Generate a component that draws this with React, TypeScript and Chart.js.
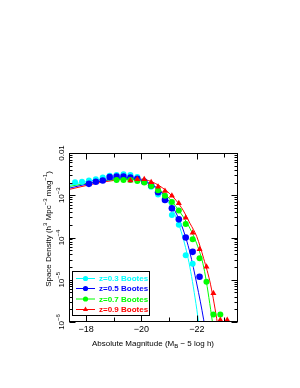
import React, { useEffect, useRef } from "react";
import { Chart, registerables } from "chart.js";
Chart.register(...registerables);

// ---- data (magnitudes and log10 space density) ----
const seriesLabels = ["z=0.3 Bootes", "z=0.5 Bootes", "z=0.7 Bootes", "z=0.9 Bootes"];
const seriesColors = ["#00FFFF", "#0000FF", "#00FF00", "#FF0000"];

const magZ03 = [-17.6, -17.85, -18.1, -18.35, -18.6, -18.85, -19.1, -19.35, -19.6, -19.85, -20.1, -20.35, -20.6, -20.85, -21.1, -21.35, -21.6, -21.85];
const logPhiZ03 = [-2.69, -2.68, -2.65, -2.62, -2.58, -2.54, -2.52, -2.5, -2.52, -2.57, -2.66, -2.8, -2.98, -3.1, -3.47, -3.7, -4.42, -4.62];

const magZ05 = [-18.1, -18.35, -18.6, -18.85, -19.1, -19.35, -19.6, -19.85, -20.1, -20.35, -20.6, -20.85, -21.1, -21.35, -21.6, -21.85, -22.1];
const logPhiZ05 = [-2.73, -2.68, -2.65, -2.57, -2.56, -2.56, -2.58, -2.61, -2.68, -2.77, -2.93, -3.11, -3.31, -3.57, -4.0, -4.34, -4.93];

const magZ07 = [-19.1, -19.35, -19.6, -19.85, -20.1, -20.35, -20.6, -20.85, -21.1, -21.35, -21.6, -21.85, -22.1, -22.35, -22.6, -22.85];
const logPhiZ07 = [-2.64, -2.64, -2.64, -2.66, -2.7, -2.78, -2.88, -3.01, -3.16, -3.36, -3.68, -4.04, -4.49, -5.05, -5.82, -5.82];

const magZ09 = [-19.6, -19.85, -20.1, -20.35, -20.6, -20.85, -21.1, -21.35, -21.6, -21.85, -22.1, -22.35, -22.6, -22.85, -23.1];
const logPhiZ09 = [-2.65, -2.62, -2.62, -2.69, -2.8, -2.9, -3.01, -3.19, -3.53, -3.89, -4.28, -4.69, -5.32, -5.95, -5.95];

// fitted curves
const fitMagZ03 = [-17.4, -17.75, -18, -18.5, -19, -19.5, -20, -20.25, -20.5, -20.75, -21, -21.25, -21.5, -21.75, -22, -22.25];
const fitLogZ03 = [-2.76, -2.71, -2.68, -2.62, -2.58, -2.58, -2.65, -2.72, -2.83, -2.99, -3.2, -3.52, -4.0, -4.7, -5.7, -6.9];

const fitMagZ05 = [-17.4, -18, -18.5, -19, -19.5, -20, -20.25, -20.5, -20.75, -21, -21.25, -21.5, -21.75, -22, -22.25, -22.5];
const fitLogZ05 = [-2.83, -2.74, -2.67, -2.61, -2.59, -2.64, -2.7, -2.8, -2.95, -3.15, -3.42, -3.8, -4.35, -5.1, -5.95, -7.0];

const fitMagZ07 = [-17.4, -18, -18.5, -19, -19.5, -20, -20.5, -20.75, -21, -21.25, -21.5, -21.75, -22, -22.25, -22.5, -22.75];
const fitLogZ07 = [-2.79, -2.72, -2.67, -2.63, -2.62, -2.66, -2.8, -2.92, -3.07, -3.27, -3.5, -3.78, -4.15, -4.7, -5.7, -6.9];

const fitMagZ09 = [-17.4, -18, -18.5, -19, -19.5, -20, -20.5, -20.75, -21, -21.25, -21.5, -21.75, -22, -22.25, -22.5, -22.75, -23];
const fitLogZ09 = [-2.86, -2.77, -2.7, -2.65, -2.62, -2.62, -2.72, -2.82, -2.95, -3.12, -3.35, -3.66, -3.98, -4.5, -5.12, -6.05, -7.2];

const xTickLabels = ["-18", "-20", "-22"];
const xTickValues = [-18, -20, -22];
const xMinorValues = [-23, -22, -21, -20, -19, -18];
const yDecades = [-6, -5, -4, -3, -2];

const pointMags = [magZ03, magZ05, magZ07, magZ09];
const pointLogs = [logPhiZ03, logPhiZ05, logPhiZ07, logPhiZ09];
const fitMags = [fitMagZ03, fitMagZ05, fitMagZ07, fitMagZ09];
const fitLogs = [fitLogZ03, fitLogZ05, fitLogZ07, fitLogZ09];
const markerStyles = ["circle", "circle", "circle", "triangle"];
const markerRadius = [3, 3.3, 3, 3.5];

type Seg = { t: string; sup?: boolean; sub?: boolean };

function drawRich(ctx: CanvasRenderingContext2D, segs: Seg[], cx: number, cy: number, rot: number, size: number, family: string, color: string, align: "center" | "left" = "center") {
  const small = Math.round(size * 0.7);
  const widths = segs.map((s) => {
    ctx.font = `${s.sup || s.sub ? small : size}px ${family}`;
    return ctx.measureText(s.t).width;
  });
  const total = widths.reduce((a, b) => a + b, 0);
  ctx.save();
  ctx.translate(cx, cy);
  ctx.rotate(rot);
  ctx.fillStyle = color;
  ctx.textBaseline = "middle";
  ctx.textAlign = "left";
  let x = align === "center" ? -total / 2 : 0;
  segs.forEach((s, i) => {
    ctx.font = `${s.sup || s.sub ? small : size}px ${family}`;
    const dy = s.sup ? -size * 0.4 : s.sub ? size * 0.3 : 0;
    ctx.fillText(s.t, x, dy);
    x += widths[i];
  });
  ctx.restore();
}

function drawMarker(ctx: CanvasRenderingContext2D, style: string, x: number, y: number, r: number, color: string) {
  ctx.save();
  ctx.fillStyle = color;
  ctx.beginPath();
  if (style === "triangle") {
    ctx.moveTo(x, y - r * 1.15);
    ctx.lineTo(x + r, y + r * 0.6);
    ctx.lineTo(x - r, y + r * 0.6);
    ctx.closePath();
  } else {
    ctx.arc(x, y, r, 0, Math.PI * 2);
  }
  ctx.fill();
  ctx.restore();
}

const FONT = "'Liberation Sans', Arial, sans-serif";

const framePlugin = {
  id: "idlFrame",
  afterDraw(chart: any) {
    const { ctx, chartArea: a, scales } = chart;
    const xs = scales.x;
    const ys = scales.y;
    ctx.save();
    ctx.strokeStyle = "#000";
    ctx.lineWidth = 1;
    const L = a.left + 0.5, R = a.right - 0.5, T = a.top + 0.5, B = a.bottom - 0.5;
    ctx.strokeRect(L, T, R - L, B - T);
    const seg = (x1: number, y1: number, x2: number, y2: number) => {
      ctx.beginPath();
      ctx.moveTo(x1, y1);
      ctx.lineTo(x2, y2);
      ctx.stroke();
    };
    // y ticks (log, inward, both sides)
    yDecades.forEach((e) => {
      for (let m = 1; m < 10; m++) {
        if (e === -2 && m > 1) break;
        const v = m * Math.pow(10, e);
        const py = Math.round(ys.getPixelForValue(v)) + 0.5;
        const len = m === 1 ? 6 : 3;
        seg(L, py, L + len, py);
        seg(R, py, R - len, py);
      }
    });
    // x ticks
    xMinorValues.forEach((v) => {
      const px = Math.round(xs.getPixelForValue(v)) + 0.5;
      const len = xTickValues.includes(v) ? 6 : 4;
      seg(px, B, px, B - len);
      seg(px, T, px, T + len);
    });
    // x tick labels
    ctx.fillStyle = "#000";
    ctx.font = `9px ${FONT}`;
    ctx.textAlign = "center";
    ctx.textBaseline = "middle";
    xTickValues.forEach((v, i) => {
      const px = xs.getPixelForValue(v);
      ctx.fillText(xTickLabels[i].replace("-", "\u2212"), px, a.bottom + 8);
    });
    // y tick labels (rotated)
    yDecades.forEach((e) => {
      const py = ys.getPixelForValue(Math.pow(10, e));
      const segs: Seg[] = e === -2 ? [{ t: "0.01" }] : [{ t: "10" }, { t: "\u2212" + String(-e), sup: true }];
      drawRich(ctx, segs, a.left - 7, py, -Math.PI / 2, 8, FONT, "#000");
    });
    // axis titles
    drawRich(
      ctx,
      [{ t: "Absolute Magnitude (M" }, { t: "B", sub: true }, { t: " \u2212 5 log h)" }],
      153,
      a.bottom + 22,
      0,
      8,
      FONT,
      "#000"
    );
    drawRich(
      ctx,
      [{ t: "Space Density (h" }, { t: "3", sup: true }, { t: " Mpc" }, { t: "\u22123", sup: true }, { t: " mag" }, { t: "\u22121", sup: true }, { t: ")" }],
      a.left - 20,
      229,
      -Math.PI / 2,
      8,
      FONT,
      "#000"
    );
    // legend
    const bx = 72.5, by = 271.5, bw = 77, bh = 44;
    ctx.fillStyle = "#fff";
    ctx.fillRect(bx, by, bw, bh);
    ctx.strokeStyle = "#000";
    ctx.strokeRect(bx, by, bw, bh);
    const rows = [278.5, 288.5, 299, 309.5];
    seriesLabels.forEach((lab, i) => {
      const yy = rows[i];
      ctx.strokeStyle = seriesColors[i];
      seg(76, yy, 95, yy);
      drawMarker(ctx, markerStyles[i], 85.5, yy, 2.6, seriesColors[i]);
      ctx.fillStyle = seriesColors[i];
      ctx.font = `bold 8px ${FONT}`;
      ctx.textAlign = "left";
      ctx.textBaseline = "middle";
      ctx.fillText(lab, 99, yy + 0.5);
    });
    ctx.restore();
  },
};

export default function App() {
  const ref = useRef<HTMLCanvasElement | null>(null);
  useEffect(() => {
    if (!ref.current) return;
    const pointSets = pointMags.map((mags, i) => ({
      label: seriesLabels[i],
      data: mags.map((m, k) => ({ x: m, y: Math.pow(10, pointLogs[i][k]) })),
      showLine: false,
      pointStyle: markerStyles[i],
      pointRadius: markerRadius[i],
      pointBackgroundColor: seriesColors[i],
      pointBorderColor: seriesColors[i],
      pointBorderWidth: 0,
      borderColor: seriesColors[i],
      backgroundColor: seriesColors[i],
    }));
    const fitSets = fitMags.map((mags, i) => ({
      label: seriesLabels[i] + " fit",
      data: mags.map((m, k) => ({ x: m, y: Math.pow(10, fitLogs[i][k]) })),
      showLine: true,
      pointRadius: 0,
      borderWidth: 1,
      borderColor: seriesColors[i],
      backgroundColor: seriesColors[i],
      cubicInterpolationMode: "monotone" as const,
      fill: false,
    }));
    const chart = new Chart(ref.current, {
      type: "line",
      data: { datasets: [...pointSets.reverse(), ...fitSets] as any },
      options: {
        responsive: false,
        animation: false,
        devicePixelRatio: 1,
        layout: { padding: { left: 69, top: 153, right: 62, bottom: 66 } },
        plugins: { legend: { display: false }, tooltip: { enabled: false } },
        scales: {
          x: { type: "linear", reverse: true, min: -23.49, max: -17.38, display: false },
          y: { type: "logarithmic", min: 1e-6, max: 1e-2, display: false },
        },
      },
      plugins: [framePlugin],
    });
    return () => chart.destroy();
  }, []);
  return (
    <canvas
      ref={ref}
      width={300}
      height={388}
      style={{ position: "absolute", left: 0, top: 0, width: 300, height: 388 }}
    />
  );
}
